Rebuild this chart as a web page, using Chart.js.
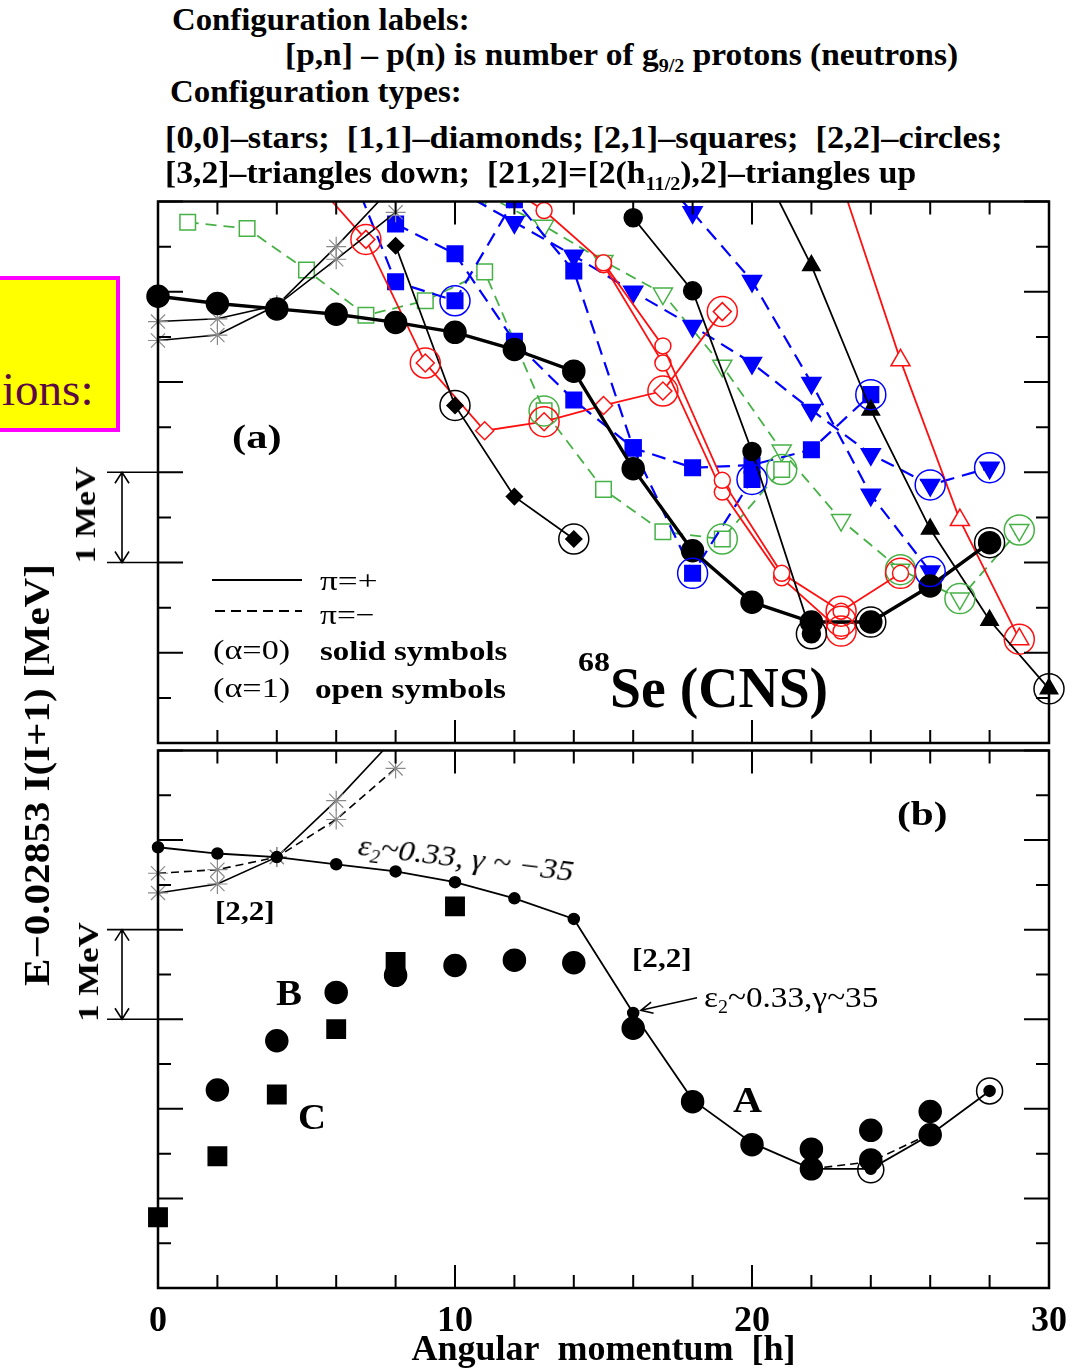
<!DOCTYPE html>
<html><head><meta charset="utf-8">
<script src="https://cdn.jsdelivr.net/npm/chart.js@4.4.1/dist/chart.umd.min.js"></script>
<style>
html,body{margin:0;padding:0;background:#fff;}
body{width:1084px;height:1369px;position:relative;overflow:hidden;font-family:'Liberation Serif','Times New Roman',serif;color:#000;}
canvas{position:absolute;left:0;}
#ca{top:185px;} #cb{top:736px;}
.t{position:absolute;white-space:pre;line-height:1;transform-origin:left center;z-index:5;}
.c{transform-origin:center center;}
.b{font-weight:bold;}
sub{font-size:0.6em;vertical-align:-0.35em;line-height:0;}
#ybox{position:absolute;left:-8px;top:276px;width:128px;height:156px;box-sizing:border-box;background:#ffff00;border:4px solid #ff00ff;z-index:4;}
.lg{position:absolute;z-index:5;}
</style></head>
<body>
<canvas id="ca" width="1084" height="575"></canvas>
<canvas id="cb" width="1084" height="633"></canvas>

<div id="ybox"></div>
<div class="t" style="left:2px;top:367px;font-size:46px;color:#5a0a45;z-index:6" data-w="91">ions:</div>

<div class="t b" style="left:172px;top:4px;font-size:31px" data-w="298">Configuration labels:</div>
<div class="t b" style="left:285px;top:39px;font-size:31px" data-w="673">[p,n] – p(n) is number of g<sub>9/2</sub> protons (neutrons)</div>
<div class="t b" style="left:170px;top:76px;font-size:31px" data-w="292">Configuration types:</div>
<div class="t b" style="left:165px;top:122px;font-size:31px" data-w="837">[0,0]–stars;  [1,1]–diamonds; [2,1]–squares;  [2,2]–circles;</div>
<div class="t b" style="left:165px;top:157px;font-size:31px" data-w="751">[3,2]–triangles down;  [21,2]=[2(h<sub>11/2</sub>),2]–triangles up</div>

<div class="t b" style="left:232px;top:420px;font-size:34px" data-w="50">(a)</div>
<div class="t b" style="left:897px;top:797px;font-size:34px" data-w="51">(b)</div>
<div class="t b" style="left:578px;top:648px;font-size:28px" data-w="32">68</div>
<div class="t b" style="left:610px;top:659px;font-size:58px" data-w="218">Se (CNS)</div>

<div class="lg" style="left:212px;top:579px;width:90px;height:2px;background:#000"></div>
<div class="lg" style="left:215px;top:610px;width:87px;height:2px;background:repeating-linear-gradient(90deg,#000 0 10px,transparent 10px 16px)"></div>
<div class="t" style="left:320px;top:567px;font-size:28px" data-w="58">π=+</div>
<div class="t" style="left:320px;top:601px;font-size:28px" data-w="55">π=−</div>
<div class="t" style="left:213px;top:636px;font-size:28px" data-w="77">(α=0)</div>
<div class="t b" style="left:320px;top:637px;font-size:28px" data-w="188">solid symbols</div>
<div class="t" style="left:213px;top:674px;font-size:28px" data-w="77">(α=1)</div>
<div class="t b" style="left:315px;top:675px;font-size:28px" data-w="191">open symbols</div>

<div class="t b c" style="left:37px;top:775px;font-size:36px" data-w="422" data-t="translate(-50%,-50%) rotate(-90deg)">E−0.02853 I(I+1) [MeV]</div>
<div class="t b c" style="left:85px;top:515px;font-size:30px" data-w="97" data-t="translate(-50%,-50%) rotate(-90deg)">1 MeV</div>
<div class="t b c" style="left:88px;top:972px;font-size:30px" data-w="100" data-t="translate(-50%,-50%) rotate(-90deg)">1 MeV</div>

<div class="t b" style="left:215px;top:897px;font-size:28px" data-w="60">[2,2]</div>
<div class="t c" style="left:466px;top:858px;font-size:30px;font-style:italic" data-w="217" data-t="translate(-50%,-50%) rotate(7deg)">ε<sub>2</sub>~0.33, γ ~ −35</div>
<div class="t b" style="left:632px;top:944px;font-size:28px" data-w="60">[2,2]</div>
<div class="t" style="left:704px;top:982px;font-size:30px" data-w="174">ε<sub>2</sub>~0.33,γ~35</div>
<div class="t b" style="left:276px;top:975px;font-size:36px" data-w="26">B</div>
<div class="t b" style="left:298px;top:1099px;font-size:36px" data-w="28">C</div>
<div class="t b" style="left:733px;top:1082px;font-size:36px" data-w="29">A</div>

<script>
// ---------------- DATA (J = angular momentum, E = energy in MeV, arbitrary zero) ----------------
const xTickLabels = [0, 10, 20, 30];

// Panel (a)
const a_yrastJ = [0,2,4,6,8,10,12,14,16,18,20,22,24,26,28];
const a_yrastE = [4.95,4.87,4.81,4.75,4.66,4.55,4.36,4.12,3.04,2.13,1.56,1.34,1.34,1.74,2.22];
const a_circ2J = [16,18,20,22];
const a_circ2E = [5.82,5.01,3.23,1.21];
const a_diaJ = [8,10,12,14];
const a_diaE = [5.51,3.74,2.73,2.26];
const a_starJ = [0,2,4,6,8];
const a_star1E = [4.67,4.70,4.85,5.36,5.88];
const a_star2E = [4.46,4.52,4.85,5.50,6.20];
const a_triUpJ = [20,22,24,26,28,30];
const a_triUpE = [6.60,5.29,3.69,2.37,1.36,0.60];
const a_redDiaJ = [5,7,9,11,13,15,17,19];
const a_redDiaE = [6.32,5.58,4.21,3.46,3.56,3.74,3.90,4.78];
const a_redCircAJ = [11,13,15,17,19,21,23,25];
const a_redCircAE = [6.33,5.90,5.32,4.40,2.91,1.88,1.46,1.88];
const a_redCircBJ = [15,17,19,21,23];
const a_redCircBE = [5.30,4.21,2.78,1.83,1.24];
const a_redTriJ = [23,25,27,29];
const a_redTriE = [6.22,4.24,2.47,1.15];
const a_blueSqAJ = [8,10,12,14,16,18,20,22,24];
const a_blueSqAE = [5.75,5.42,4.45,3.80,3.27,3.05,3.08,3.25,3.86];
const a_blueSqBJ = [6,8,10,12,14,16,18,20];
const a_blueSqBE = [6.75,5.11,4.90,6.02,5.23,3.27,1.88,2.92];
const a_blueTriAJ = [10,12,14,16,18,20,22,24,26,28];
const a_blueTriAE = [6.14,5.77,5.40,5.00,4.62,4.21,3.69,3.20,2.86,3.05];
const a_blueTriBJ = [16,18,20,22,24,26];
const a_blueTriBE = [6.60,5.88,5.12,3.99,2.75,1.90];
const a_greenSqJ = [1,3,5,7,9,11,13,15,17,19,21];
const a_greenSqE = [5.77,5.70,5.24,4.74,4.90,5.22,3.68,2.81,2.34,2.26,3.03];
const a_greenTriJ = [11,13,15,17,19,21,23,25,27,29];
const a_greenTriE = [6.08,5.73,5.34,4.98,4.18,3.24,2.47,1.92,1.60,2.36];
const a_blackRingJ = [10,14,22,24,28,30];
const a_blackRingE = [3.74,2.26,1.21,1.34,2.22,0.60];
const a_redRingJ = [7,9,13,17,19,23,23,23,25,29];
const a_redRingE = [5.58,4.21,3.56,3.90,4.78,1.46,1.35,1.24,1.88,1.15];
const a_blueRingJ = [10,18,20,24,26,26,28];
const a_blueRingE = [4.90,1.88,2.92,3.86,2.86,1.90,3.05];
const a_greenRingJ = [13,19,21,25,27,29];
const a_greenRingE = [3.68,2.26,3.03,1.92,1.60,2.36];

// Panel (b)
const b_thJ = [0,2,4,6,8,10,12,14,16,18,20,22,24,26,28];
const b_thE = [4.92,4.85,4.81,4.73,4.65,4.53,4.35,4.12,3.07,2.10,1.62,1.33,1.33,1.71,2.20];
const b_thDashJ = [22,24,26];
const b_thDashE = [1.33,1.41,1.72];
const b_expBJ = [2,4,6,8,10,12,14];
const b_expBE = [2.21,2.76,3.30,3.49,3.60,3.66,3.63];
const b_expAJ = [16,18,20,22,22,24,24,26,26];
const b_expAE = [2.90,2.08,1.60,1.55,1.33,1.76,1.43,1.97,1.71];
const b_expCJ = [0,2,4,6,8,10];
const b_expCE = [0.79,1.47,2.16,2.89,3.64,4.26];
const b_starJ = [0,2,4,6,8];
const b_starSolidE = [4.41,4.51,4.81,5.44,6.15];
const b_starDashE = [4.63,4.67,4.81,5.23,5.80];
const b_ringJ = [24,28];
const b_ringE = [1.32,2.20];

// ---------------- STYLE / BUILD ----------------
const RED = '#ff1010', BLUE = '#0000ff', GREEN = '#46b246', GREY = '#8a8a8a';
const FONT = "'Liberation Serif','Times New Roman',serif";

function S(J, E, o) {
  return Object.assign({
    data: J.map((j, i) => ({x: j, y: E[i]})),
    showLine: true, tension: 0, fill: false, borderWidth: 1.8, borderColor: '#000',
    pointRadius: 9, pointBorderWidth: 1.5, pointStyle: 'circle',
    pointBackgroundColor: '#000', pointBorderColor: '#000',
    clip: {left: 30, right: 30, top: 0, bottom: 0}
  }, o);
}
const ring = (c, r) => ({showLine: false, pointRadius: r || 15, pointStyle: 'circle',
  pointBackgroundColor: 'rgba(0,0,0,0)', pointBorderColor: c, pointBorderWidth: 1.5});
const openP = c => ({borderColor: c, pointBorderColor: c, pointBackgroundColor: '#fff'});
const fillP = c => ({borderColor: c, pointBorderColor: c, pointBackgroundColor: c});
const dashB = {borderDash: [14, 8], borderWidth: 2.2};
const dashG = {borderDash: [11, 7], borderWidth: 1.8};

const framePlugin = {
  id: 'frame',
  afterDatasetsDraw(chart, args, o) {
    const {ctx, chartArea: ca, scales: {x, y}} = chart;
    ctx.save();
    ctx.strokeStyle = '#000';
    ctx.lineWidth = 2;
    ctx.beginPath();
    for (let v = 0; v <= 30; v += 2) {
      const px = x.getPixelForValue(v), L = v % 10 === 0 ? 23 : 13;
      ctx.moveTo(px, ca.bottom); ctx.lineTo(px, ca.bottom - L);
      ctx.moveTo(px, ca.top); ctx.lineTo(px, ca.top + L);
    }
    for (let v = 0; v <= 6; v += 0.5) {
      const py = y.getPixelForValue(v), L = v % 1 === 0 ? 25 : 13;
      ctx.moveTo(ca.left, py); ctx.lineTo(ca.left + L, py);
      ctx.moveTo(ca.right, py); ctx.lineTo(ca.right - L, py);
    }
    ctx.stroke();
    ctx.lineWidth = 2.5;
    ctx.strokeRect(ca.left, ca.top, ca.right - ca.left, ca.bottom - ca.top);
    if (o.bar) {
      const y1 = y.getPixelForValue(o.bar[0]), y2 = y.getPixelForValue(o.bar[1]);
      const ax = ca.left - 36;
      ctx.lineWidth = 1.6;
      ctx.beginPath();
      ctx.moveTo(ca.left - 51, y1); ctx.lineTo(ca.left, y1);
      ctx.moveTo(ca.left - 51, y2); ctx.lineTo(ca.left, y2);
      ctx.moveTo(ax, y1); ctx.lineTo(ax, y2);
      ctx.moveTo(ax - 7, y2 + 11); ctx.lineTo(ax, y2); ctx.lineTo(ax + 7, y2 + 11);
      ctx.moveTo(ax - 7, y1 - 11); ctx.lineTo(ax, y1); ctx.lineTo(ax + 7, y1 - 11);
      ctx.stroke();
    }
    if (o.arrow) {
      const fx = x.getPixelForValue(o.arrow[0]), fy = y.getPixelForValue(o.arrow[1]);
      const tx = x.getPixelForValue(o.arrow[2]), ty = y.getPixelForValue(o.arrow[3]);
      const a = Math.atan2(ty - fy, tx - fx), h = 13;
      ctx.lineWidth = 1.6;
      ctx.beginPath();
      ctx.moveTo(fx, fy); ctx.lineTo(tx, ty);
      ctx.moveTo(tx - h * Math.cos(a - 0.45), ty - h * Math.sin(a - 0.45));
      ctx.lineTo(tx, ty);
      ctx.lineTo(tx - h * Math.cos(a + 0.45), ty - h * Math.sin(a + 0.45));
      ctx.stroke();
    }
    ctx.restore();
  }
};

const baseOpts = (pad, extra) => ({
  animation: false, responsive: false, maintainAspectRatio: false, events: [],
  layout: {padding: pad},
  plugins: Object.assign({legend: {display: false}, tooltip: {enabled: false}}, extra),
  scales: {
    x: {type: 'linear', min: 0, max: 30, display: false},
    y: {type: 'linear', min: 0, max: 6, display: false}
  }
});

// Panel (a)
const dsA = [
  S(a_blackRingJ, a_blackRingE, ring('#000')),
  S(a_redRingJ, a_redRingE, ring(RED)),
  S(a_blueRingJ, a_blueRingE, ring(BLUE)),
  S(a_greenRingJ, a_greenRingE, ring(GREEN)),
  S(a_yrastJ, a_yrastE, {borderWidth: 3.4, pointRadius: 11}),
  S(a_circ2J, a_circ2E, {pointRadius: 9}),
  S(a_diaJ, a_diaE, {pointStyle: 'rectRot', pointRadius: 8}),
  S(a_triUpJ, a_triUpE, {pointStyle: 'triangle', pointRadius: 10}),
  S(a_starJ, a_star1E, {pointStyle: 'star', pointRadius: 10, pointBorderColor: GREY, pointBorderWidth: 1.2, borderWidth: 1.6}),
  S(a_starJ, a_star2E, {pointStyle: 'star', pointRadius: 10, pointBorderColor: GREY, pointBorderWidth: 1.2, borderWidth: 1.6}),
  S(a_redDiaJ, a_redDiaE, Object.assign(openP(RED), {pointStyle: 'rectRot', pointRadius: 9})),
  S(a_redCircAJ, a_redCircAE, Object.assign(openP(RED), {pointRadius: 8})),
  S(a_redCircBJ, a_redCircBE, Object.assign(openP(RED), {pointRadius: 8})),
  S(a_redTriJ, a_redTriE, Object.assign(openP(RED), {pointStyle: 'triangle', pointRadius: 11})),
  S(a_blueSqAJ, a_blueSqAE, Object.assign(fillP(BLUE), dashB, {pointStyle: 'rect', pointRadius: 11})),
  S(a_blueSqBJ, a_blueSqBE, Object.assign(fillP(BLUE), dashB, {pointStyle: 'rect', pointRadius: 11})),
  S(a_blueTriAJ, a_blueTriAE, Object.assign(fillP(BLUE), dashB, {pointStyle: 'triangle', pointRotation: 180, pointRadius: 11})),
  S(a_blueTriBJ, a_blueTriBE, Object.assign(fillP(BLUE), dashB, {pointStyle: 'triangle', pointRotation: 180, pointRadius: 11})),
  S(a_greenSqJ, a_greenSqE, Object.assign(openP(GREEN), dashG, {pointStyle: 'rect', pointRadius: 11})),
  S(a_greenTriJ, a_greenTriE, Object.assign(openP(GREEN), dashG, {pointStyle: 'triangle', pointRotation: 180, pointRadius: 11}))
];

new Chart(document.getElementById('ca'), {
  type: 'scatter',
  data: {datasets: dsA},
  options: baseOpts({left: 158, right: 35, top: 12, bottom: 17}, {frame: {bar: [2, 3]}}),
  plugins: [framePlugin]
});

// Panel (b)
const dsB = [
  S(b_ringJ, b_ringE, ring('#000', 13)),
  S(b_expAJ, b_expAE, {showLine: false, pointRadius: 11}),
  S(b_expBJ, b_expBE, {showLine: false, pointRadius: 11}),
  S(b_expCJ, b_expCE, {showLine: false, pointStyle: 'rect', pointRadius: 13}),
  S(b_thJ, b_thE, {pointRadius: 5.5, borderWidth: 1.8}),
  S(b_thDashJ, b_thDashE, {pointRadius: 0, borderDash: [8, 5], borderWidth: 1.6}),
  S(b_starJ, b_starSolidE, {pointStyle: 'star', pointRadius: 10, pointBorderColor: GREY, pointBorderWidth: 1.2, borderWidth: 1.6}),
  S(b_starJ, b_starDashE, {pointStyle: 'star', pointRadius: 10, pointBorderColor: GREY, pointBorderWidth: 1.2, borderWidth: 1.6, borderDash: [8, 5]})
];

const optB = baseOpts({left: 158, right: 35, top: 7, bottom: 0}, {frame: {bar: [3, 4], arrow: [18.15, 3.24, 16.26, 3.10]}});
optB.scales.x = {
  type: 'linear', min: 0, max: 30, position: 'bottom', display: true,
  afterBuildTicks: s => { s.ticks = xTickLabels.map(v => ({value: v})); },
  afterFit: s => { s.height = 81; },
  grid: {display: false, drawTicks: false}, border: {display: false},
  ticks: {font: {family: FONT, size: 36, weight: 'bold'}, color: '#000', padding: 12, maxRotation: 0, autoSkip: false},
  title: {display: true, text: 'Angular  momentum  [h]', color: '#000', padding: {top: 0, bottom: -3},
          font: {family: FONT, size: 36, weight: 'bold'}}
};
new Chart(document.getElementById('cb'), {
  type: 'scatter',
  data: {datasets: dsB},
  options: optB,
  plugins: [framePlugin]
});

// ---------------- fit text widths ----------------
function fitAll() {
  document.querySelectorAll('.t').forEach(el => {
    const target = +el.dataset.w, nat = el.offsetWidth;
    const k = target && nat ? target / nat : 1;
    el.style.transform = (el.dataset.t || '') + ' scaleX(' + k.toFixed(4) + ')';
  });
}
fitAll();
if (document.fonts && document.fonts.ready) document.fonts.ready.then(fitAll);
</script>
</body></html>
